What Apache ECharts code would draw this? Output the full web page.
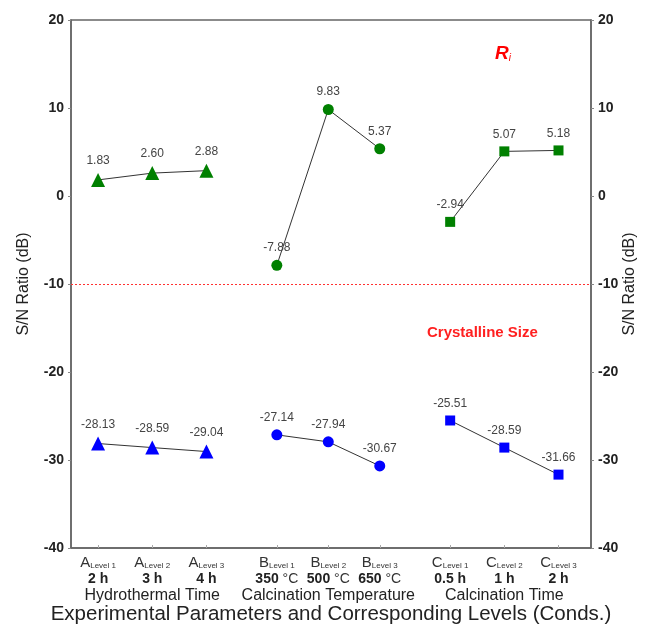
<!DOCTYPE html>
<html>
<head>
<meta charset="utf-8">
<script src="https://cdn.jsdelivr.net/npm/echarts@6/dist/echarts.min.js"></script>
<style>
  html, body { margin: 0; padding: 0; background: #fff; }
  #chart { width: 649px; height: 625px; }
</style>
</head>
<body>
<div id="chart"></div>
<script>
// positions of the nine levels along the x axis (groups A, B, C)
var levelPos = [0.5, 1.5, 2.5, 3.8, 4.75, 5.7, 7, 8, 9]
var factors = ['A', 'A', 'A', 'B', 'B', 'B', 'C', 'C', 'C']
var levelNames = ['Level 1', 'Level 2', 'Level 3', 'Level 1', 'Level 2', 'Level 3', 'Level 1', 'Level 2', 'Level 3']
var conds = ['2 h', '3 h', '4 h', '350', '500', '650', '0.5 h', '1 h', '2 h']
var groupNames = ['Hydrothermal Time', 'Calcination Temperature', 'Calcination Time']

// S/N ratio (dB)
var riA = [1.83, 2.60, 2.88]
var riB = [-7.88, 9.83, 5.37]
var riC = [-2.94, 5.07, 5.18]
var csA = [-28.13, -28.59, -29.04]
var csB = [-27.14, -27.94, -30.67]
var csC = [-25.51, -28.59, -31.66]

var font = 'Liberation Sans, Arial, sans-serif'
// group names sit under the middle level of each group
var groupPos = [levelPos[1], levelPos[4], levelPos[7]]

function pairs(group, vals) {
  return vals.map(function(v, i) { return [levelPos[group * 3 + i], v] })
}

function makeSeries(group, vals, color, symbol, size) {
  return {
    type: 'line',
    data: pairs(group, vals),
    symbol: symbol,
    symbolSize: size,
    itemStyle: { color: color },
    lineStyle: { color: '#333', width: 1 },
    label: {
      show: true,
      position: 'top',
      distance: 6,
      color: '#444',
      fontSize: 12,
      fontFamily: font,
      formatter: function(p) { return p.value[1].toFixed(2) }
    },
    animation: false,
    z: 3
  }
}

var series = [
  makeSeries(0, riA, '#008000', 'triangle', 14),
  makeSeries(1, riB, '#008000', 'circle', 11),
  makeSeries(2, riC, '#008000', 'rect', 10),
  makeSeries(0, csA, '#0000ff', 'triangle', 14),
  makeSeries(1, csB, '#0000ff', 'circle', 11),
  makeSeries(2, csC, '#0000ff', 'rect', 10)
]
series[0].markLine = {
  silent: true,
  symbol: 'none',
  label: { show: false },
  itemStyle: { color: '#ff3030' },
  lineStyle: { color: '#ff3030', type: [2, 2], width: 1.2 },
  data: [{ yAxis: -10 }]
}

function yAxisCfg(pos, gap) {
  return {
    type: 'value',
    position: pos,
    min: -40,
    max: 20,
    interval: 10,
    name: 'S/N Ratio (dB)',
    nameLocation: 'middle',
    nameGap: gap,
    nameMoveOverlap: false,
    nameTextStyle: { fontSize: 16, color: '#222', fontFamily: font },
    axisLine: { show: true, onZero: false, lineStyle: { color: '#666', width: 1.5 } },
    axisTick: { show: true, inside: false, length: 3, lineStyle: { color: '#888' } },
    axisLabel: { fontSize: 14, fontWeight: 'bold', color: '#222', fontFamily: font, margin: 7 },
    splitLine: { show: false }
  }
}

var chart = echarts.init(document.getElementById('chart'))
chart.setOption({
  backgroundColor: '#fff',
  grid: {
    left: 71, right: 58, top: 20, bottom: 77,
    outerBoundsMode: 'none',
    show: true, borderColor: '#666', borderWidth: 1.5
  },
  xAxis: [{
    type: 'value',
    min: 0,
    max: 9.6,
    axisLine: { show: true, onZero: false, lineStyle: { color: '#666', width: 1.5 } },
    axisTick: { show: true, inside: true, length: 3, customValues: levelPos, lineStyle: { color: '#aaa' } },
    axisLabel: {
      customValues: levelPos,
      margin: 5,
      color: '#222',
      fontFamily: font,
      formatter: function(v) {
        var i = levelPos.indexOf(v)
        if (i < 0) return ''
        var s = '{a|' + factors[i] + '}{s|' + levelNames[i] + '}\n'
        if (i >= 3 && i <= 5) s += '{b|' + conds[i] + '}{c| °C}'
        else s += '{b|' + conds[i] + '}'
        return s
      },
      rich: {
        a: { fontSize: 15, color: '#333', fontFamily: font, lineHeight: 17, verticalAlign: 'bottom' },
        s: { fontSize: 8, color: '#333', fontFamily: font, lineHeight: 17, verticalAlign: 'bottom' },
        b: { fontSize: 14, fontWeight: 'bold', color: '#222', fontFamily: font, lineHeight: 18 },
        c: { fontSize: 14, color: '#333', fontFamily: font, lineHeight: 18 }
      }
    },
    splitLine: { show: false }
  }, {
    type: 'value',
    position: 'bottom',
    min: 0,
    max: 9.6,
    name: 'Experimental Parameters and Corresponding Levels (Conds.)',
    nameLocation: 'middle',
    nameGap: 56,
    nameMoveOverlap: false,
    nameTextStyle: { fontSize: 20.5, color: '#222', fontFamily: font },
    axisLine: { show: false },
    axisTick: { show: false },
    axisLabel: {
      customValues: groupPos,
      margin: 40,
      fontSize: 16,
      color: '#222',
      fontFamily: font,
      formatter: function(v) {
        var i = groupPos.indexOf(v)
        return i < 0 ? '' : groupNames[i]
      }
    },
    splitLine: { show: false }
  }],
  yAxis: [yAxisCfg('left', 39), yAxisCfg('right', 31)],
  series: series,
  graphic: [{
    type: 'text',
    left: 495,
    top: 44,
    style: {
      text: '{r|R}{i|i}',
      rich: {
        r: { fontSize: 19, fontStyle: 'italic', fontWeight: 'bold', fill: '#ff0000', fontFamily: font },
        i: { fontSize: 10, fontStyle: 'italic', fill: '#ff0000', fontFamily: font, verticalAlign: 'bottom', padding: [8, 0, 0, 0] }
      }
    }
  }, {
    type: 'text',
    left: 427,
    top: 325,
    style: { text: 'Crystalline Size', fontSize: 15, fontWeight: 'bold', fill: '#ff2020', fontFamily: font }
  }]
})
</script>
</body>
</html>
